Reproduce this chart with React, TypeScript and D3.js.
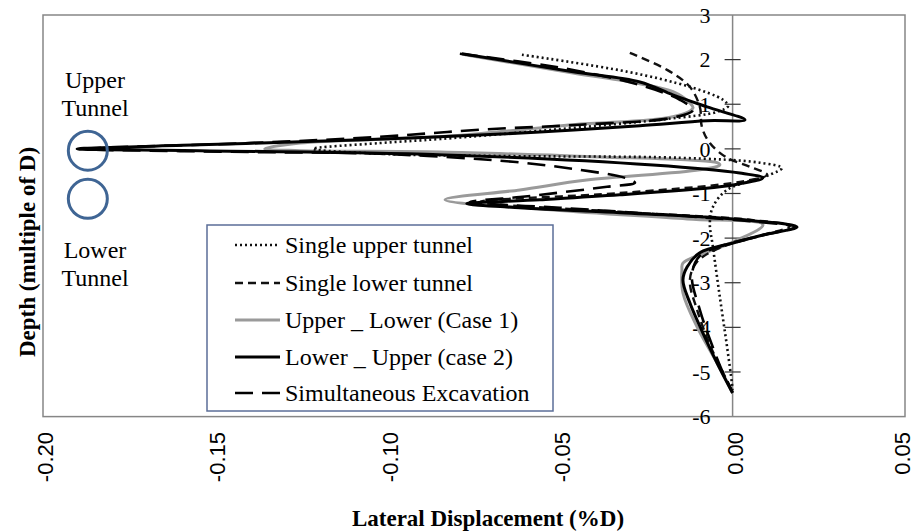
import React from "react";
import * as d3 from "d3";

const W = 916;
const H = 531;

const xTicks = [-0.2, -0.15, -0.1, -0.05, 0, 0.05];
const yTicks = [3, 2, 1, 0, -1, -2, -3, -4, -5, -6];

const seriesNames = [
  "Single upper tunnel",
  "Single lower tunnel",
  "Upper _ Lower (Case 1)",
  "Lower _ Upper (case 2)",
  "Simultaneous Excavation",
];

const singleUpperX = [-0.0611, -0.0306, -0.0124, -0.0028, -0.0013, -0.0045, -0.019, -0.0521, -0.0849, -0.1023, -0.1217, -0.1023, -0.0675, -0.0153, 0.0079, 0.0143, 0.0108, -0.0016, -0.0057, -0.0066, -0.0057, -0.0037, -0.0016, -0.0002, 0];
const singleUpperY = [2.11, 1.73, 1.39, 1.1, 0.96, 0.83, 0.67, 0.43, 0.22, 0.13, 0, -0.11, -0.16, -0.2, -0.31, -0.43, -0.58, -0.92, -1.3, -1.66, -2.2, -3.32, -4.44, -5.25, -5.4];

const singleLowerX = [-0.0298, -0.019, -0.0124, -0.0095, -0.0089, -0.0066, -0.0016, 0.005, 0.01, 0.0021, -0.0327, -0.0733, -0.0327, 0.005, 0.0166, 0.0079, -0.0037, -0.0103, -0.0124, -0.0103, -0.0066, -0.0031, 0];
const singleLowerY = [2.15, 1.77, 1.39, 0.94, 0.49, 0.13, -0.2, -0.4, -0.58, -0.74, -0.99, -1.19, -1.41, -1.59, -1.73, -1.95, -2.22, -2.53, -2.94, -3.61, -4.39, -4.96, -5.45];

const case1X = [-0.0776, -0.0463, -0.0269, -0.0173, -0.0124, -0.0115, -0.0173, -0.0463, -0.0849, -0.1255, -0.1357, -0.1255, -0.0849, -0.0384, -0.0124, -0.0045, -0.0037, -0.0095, -0.0423, -0.0617, -0.0834, -0.0521, -0.0132, 0.0088, 0.0001, -0.0144, -0.0147, -0.0144, -0.0103, -0.0045, 0];
const case1Y = [2.11, 1.7, 1.46, 1.28, 1.03, 0.92, 0.72, 0.54, 0.27, 0.13, 0, -0.04, -0.07, -0.18, -0.25, -0.31, -0.36, -0.47, -0.7, -0.92, -1.14, -1.37, -1.57, -1.7, -2.09, -2.56, -2.71, -3.23, -3.99, -4.8, -5.47];

const case2X = [-0.0785, -0.0463, -0.0269, -0.0173, -0.0074, 0.0036, -0.0074, -0.0269, -0.0559, -0.0849, -0.1255, -0.1545, -0.1901, -0.1545, -0.0849, -0.0231, 0.0021, 0.0088, 0.0021, -0.0037, -0.0327, -0.0559, -0.0771, -0.0617, -0.0327, -0.0095, 0.0059, 0.0187, 0.0088, 0.0001, -0.0095, -0.0132, -0.0144, -0.0124, -0.0086, -0.0045, 0];
const case2Y = [2.13, 1.73, 1.5, 1.21, 0.94, 0.65, 0.63, 0.52, 0.38, 0.27, 0.16, 0.09, 0, -0.04, -0.13, -0.36, -0.54, -0.65, -0.78, -0.85, -1.03, -1.14, -1.23, -1.32, -1.43, -1.52, -1.61, -1.75, -1.93, -2.11, -2.33, -2.65, -2.94, -3.45, -4.13, -4.8, -5.47];

const simulX = [-0.0791, -0.0501, -0.0269, -0.0153, -0.0115, -0.0173, -0.0443, -0.0733, -0.1023, -0.14, -0.1878, -0.14, -0.1023, -0.0637, -0.0443, -0.0312, -0.0283, -0.0364, -0.0617, -0.0762, -0.0501, -0.0153, 0.0079, 0.0181, 0.0079, -0.0022, -0.0095, -0.0118, -0.0095, -0.006, -0.0031, 0];
const simulY = [2.13, 1.82, 1.43, 1.1, 0.87, 0.7, 0.54, 0.43, 0.27, 0.13, 0, -0.07, -0.11, -0.29, -0.47, -0.65, -0.76, -0.85, -1.08, -1.19, -1.32, -1.5, -1.64, -1.75, -1.95, -2.15, -2.4, -2.83, -3.61, -4.39, -4.96, -5.45];

const tunnelX = -0.187;
const tunnelDepths = [-0.04, -1.12];

const SERIF = "'Liberation Serif', 'Times New Roman', serif";
const SANS = "'Liberation Sans', Arial, sans-serif";

type Style = { stroke: string; width: number; dash?: string };
const styles: Style[] = [
  { stroke: "#111", width: 2.6, dash: "2,3" },
  { stroke: "#111", width: 2.4, dash: "8,5" },
  { stroke: "#9a9a9a", width: 3 },
  { stroke: "#000", width: 3 },
  { stroke: "#000", width: 2.6, dash: "18,9" },
];

export default function App() {
  const left = 43, right = 905, top = 15, bottom = 416.6;
  const x = d3.scaleLinear().domain([-0.2, 0.05]).range([left, right]);
  const y = d3.scaleLinear().domain([-6, 3]).range([bottom, top]);

  const data: [number[], number[]][] = [
    [singleUpperX, singleUpperY],
    [singleLowerX, singleLowerY],
    [case1X, case1Y],
    [case2X, case2Y],
    [simulX, simulY],
  ];
  const line = d3
    .line<[number, number]>()
    .x((d) => x(d[0]))
    .y((d) => y(d[1]))
    .curve(d3.curveCatmullRom.alpha(0.5));

  const order = [2, 0, 1, 3, 4];
  const x0 = x(0);

  const legendRows = [245, 283, 320, 357, 393];

  return (
    <svg
      width={W}
      height={H}
      style={{ position: "absolute", left: 0, top: 0, background: "#fff" }}
    >
      <rect x={0} y={0} width={W} height={H} fill="#fff" />
      <rect x={left} y={top} width={right - left} height={bottom - top} fill="none" stroke="#868686" strokeWidth={1.5} />
      <line x1={x0} x2={x0} y1={top} y2={bottom} stroke="#868686" strokeWidth={1.5} />
      {yTicks.map((t) => (
        <g key={t}>
          {t !== 3 && t !== -6 && (
            <line x1={x0 - 8} x2={x0 + 8} y1={y(t)} y2={y(t)} stroke="#333" strokeWidth={1.2} />
          )}
          <text
            x={x0 - 22}
            y={y(t)}
            dy="0.35em"
            textAnchor="end"
            fontFamily={SERIF}
            fontSize={22}
            fill="#000"
          >
            {t}
          </text>
        </g>
      ))}
      {xTicks.map((t, i) => (
        <text
          key={t}
          transform={`translate(${x(t) + (i === xTicks.length - 1 ? -3 : 2)},432) rotate(-90)`}
          dy="0.36em"
          textAnchor="end"
          fontFamily={SANS}
          fontSize={22}
          fill="#000"
        >
          {t.toFixed(2)}
        </text>
      ))}
      {order.map((i) => {
        const [xs, ys] = data[i];
        const pts = xs.map((v, k) => [v, ys[k]] as [number, number]);
        const s = styles[i];
        return (
          <path
            key={i}
            d={line(pts) || ""}
            fill="none"
            stroke={s.stroke}
            strokeWidth={s.width}
            strokeDasharray={s.dash}
            strokeLinejoin="round"
          />
        );
      })}
      {tunnelDepths.map((dp, k) => (
        <circle key={k} cx={x(tunnelX)} cy={y(dp)} r={19.5} fill="none" stroke="#3f6594" strokeWidth={3} />
      ))}
      <text x={95} y={88} textAnchor="middle" fontFamily={SERIF} fontSize={24}>Upper</text>
      <text x={95} y={116} textAnchor="middle" fontFamily={SERIF} fontSize={24}>Tunnel</text>
      <text x={95} y={258} textAnchor="middle" fontFamily={SERIF} fontSize={24}>Lower</text>
      <text x={95} y={286} textAnchor="middle" fontFamily={SERIF} fontSize={24}>Tunnel</text>
      <rect x={207} y={225} width={346} height={186} fill="#fff" stroke="#5b6e98" strokeWidth={1.5} />
      {seriesNames.map((n, i) => {
        const s = styles[i];
        return (
          <g key={n}>
            <line
              x1={235}
              x2={280}
              y1={legendRows[i]}
              y2={legendRows[i]}
              stroke={s.stroke}
              strokeWidth={s.width}
              strokeDasharray={s.dash}
            />
            <text x={285} y={legendRows[i]} dy="0.35em" fontFamily={SERIF} fontSize={24}>
              {n}
            </text>
          </g>
        );
      })}
      <text x={488} y={518} dy="0.35em" textAnchor="middle" fontFamily={SERIF} fontSize={23} fontWeight="bold">
        Lateral Displacement (%D)
      </text>
      <text
        transform={`translate(27,252) rotate(-90)`}
        dy="0.35em"
        textAnchor="middle"
        fontFamily={SERIF}
        fontSize={23}
        fontWeight="bold"
      >
        Depth (multiple of D)
      </text>
    </svg>
  );
}
